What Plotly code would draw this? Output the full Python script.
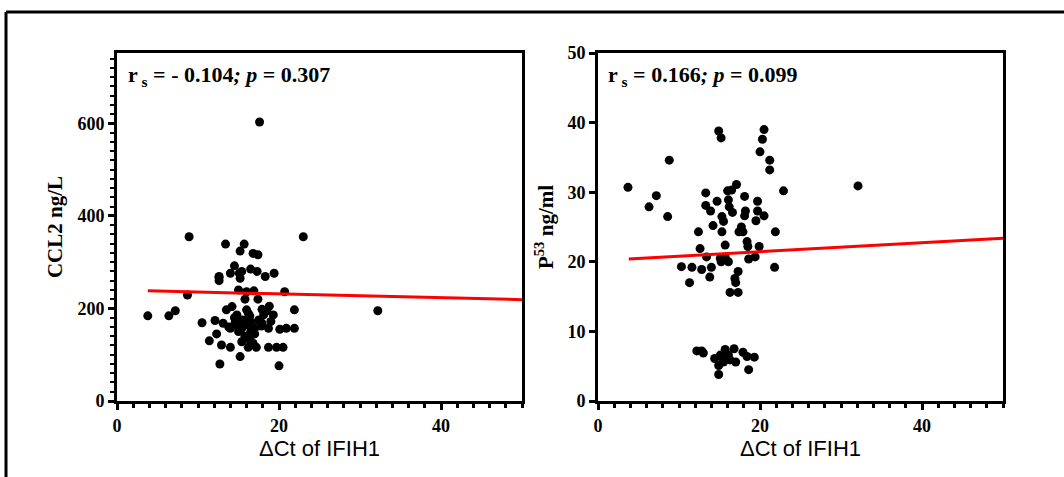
import plotly.graph_objects as go

# ---- data: left panel (CCL2 vs ΔCt IFIH1) ----
ccl2_x = [8.9, 23.0, 13.4, 15.7, 15.2, 16.8, 17.4, 17.6,
          14.5, 12.6, 14.0, 15.4, 16.5, 17.3, 18.3, 19.4, 15.2, 12.6, 12.6, 15.1,
          15.0, 16.0, 16.9, 20.7, 8.7, 15.8, 17.4,
          14.2, 13.5, 16.0, 17.9, 18.8, 21.9, 7.2, 32.2, 3.8, 6.4,
          14.8, 16.4, 18.1, 19.3, 10.5, 12.1, 13.1, 15.0, 16.6, 17.9,
          14.0, 15.4, 17.0, 18.7, 20.1, 20.9, 21.9, 12.3, 11.4, 12.9, 14.0, 15.4,
          16.4, 16.2, 17.2, 18.7, 19.7, 20.5, 15.2, 12.7, 20.0,
          15.5, 16.0, 15.0, 16.5, 15.8, 16.8, 14.5, 17.5, 18.5, 13.8, 16.2, 17.0,
          15.0, 14.6, 16.3, 17.8, 19.0]
ccl2_y = [355, 355, 339, 339, 324, 319, 316, 603,
          292, 267, 276, 280, 285, 280, 269, 276, 265, 269, 260, 276,
          240, 236, 238, 236, 229, 220, 220,
          204, 197, 197, 198, 205, 197, 195, 195, 184, 184,
          186, 184, 186, 186, 169, 174, 168, 168, 169, 168,
          157, 157, 157, 157, 155, 157, 157, 145, 130, 121, 116, 128,
          132, 116, 116, 116, 116, 116, 96, 80, 76,
          175, 165, 160, 150, 140, 125, 180, 175, 195, 160, 190, 145,
          150, 170, 178, 162, 172]
ccl2_fit_x = [3.8, 50]
ccl2_fit_y = [238, 219]

# ---- data: right panel (P53 vs ΔCt IFIH1) ----
p53_x = [3.7, 7.2, 6.3, 8.6, 8.8, 14.9, 15.2, 20.5, 20.3, 20.0, 21.2, 21.2, 32.1,
         22.9, 17.1, 16.5, 16.0, 13.3, 18.1, 14.7, 16.1, 19.7, 13.3, 13.9, 16.2,
         16.6, 18.2, 19.7, 20.5, 15.3, 18.1, 19.5, 14.2, 15.5, 17.7, 12.4, 15.3,
         17.4, 21.9, 17.9, 12.6, 15.7, 18.4, 18.5, 19.9, 13.4, 15.1, 15.7, 16.1,
         15.2, 18.6, 19.4, 10.3, 11.6, 12.8, 14.0, 21.8, 17.3, 16.9, 17.0, 13.8,
         11.3, 16.3, 17.3,
         12.2, 12.8, 13.0, 15.7, 16.8, 17.9, 14.4, 15.1, 15.5, 16.3, 17.0, 18.4,
         19.3, 14.9, 14.9, 18.6, 15.3, 16.1]
p53_y = [30.7, 29.5, 27.9, 26.5, 34.6, 38.8, 37.8, 39.0, 37.6, 35.8, 34.6, 33.2, 30.9,
         30.2, 31.1, 30.3, 30.2, 29.9, 29.4, 28.7, 28.9, 28.7, 28.1, 27.3, 27.9,
         27.1, 27.3, 27.3, 26.6, 26.5, 26.6, 25.9, 25.2, 25.8, 25.0, 24.3, 24.3,
         24.3, 24.3, 24.3, 21.9, 22.4, 22.9, 22.2, 22.2, 20.7, 20.5, 20.7, 20.0,
         20.0, 20.4, 20.7, 19.3, 19.2, 18.9, 19.2, 19.2, 18.6, 17.6, 17.0, 17.8,
         17.0, 15.6, 15.6,
         7.2, 7.2, 6.9, 7.4, 7.5, 7.0, 6.1, 6.6, 5.6, 5.9, 5.6, 6.4,
         6.3, 5.1, 3.8, 4.5, 6.3, 6.6]
p53_fit_x = [3.8, 50]
p53_fit_y = [20.4, 23.4]

W, H = 1064, 477
def px_x(p): return p / W
def px_y(p): return 1 - p / H

fig = go.Figure()
fig.add_trace(go.Scatter(x=ccl2_x, y=ccl2_y, mode="markers",
                         marker=dict(color="black", size=9), xaxis="x", yaxis="y"))
fig.add_trace(go.Scatter(x=ccl2_fit_x, y=ccl2_fit_y, mode="lines",
                         line=dict(color="#ff0000", width=3), xaxis="x", yaxis="y"))
fig.add_trace(go.Scatter(x=p53_x, y=p53_y, mode="markers",
                         marker=dict(color="black", size=9), xaxis="x2", yaxis="y2"))
fig.add_trace(go.Scatter(x=p53_fit_x, y=p53_fit_y, mode="lines",
                         line=dict(color="#ff0000", width=3), xaxis="x2", yaxis="y2"))

tickfont = dict(family="Liberation Serif", size=18, color="black", weight="bold")
xtitle_font = dict(family="Liberation Sans", size=22, color="black")
ytitle_font = dict(family="Liberation Serif", size=21, color="black", weight="bold")

common_x = dict(range=[0, 50], tickvals=[0, 20, 40], showgrid=False, zeroline=False,
                showline=True, linecolor="black", linewidth=3, mirror=True,
                ticks="outside", ticklen=6, tickwidth=2.5, tickcolor="black",
                tickfont=tickfont, automargin=False,
                minor=dict(dtick=2, ticks="outside", ticklen=4, tickwidth=2.5, tickcolor="black"),
                title=dict(text="\u0394Ct of IFIH1", font=xtitle_font, standoff=1))
common_y = dict(showgrid=False, zeroline=False, showline=True, linecolor="black",
                linewidth=3, mirror=True, ticks="outside", ticklen=6, tickwidth=2.5,
                tickcolor="black", tickfont=tickfont, automargin=False)

ydom = [px_y(401), px_y(53)]
fig.update_layout(
    width=W, height=H, margin=dict(l=0, r=0, t=0, b=0, autoexpand=False),
    paper_bgcolor="white", plot_bgcolor="white", showlegend=False,
    xaxis=dict(domain=[px_x(117), px_x(522)], anchor="y", **common_x),
    xaxis2=dict(domain=[px_x(598), px_x(1003)], anchor="y2", **common_x),
    yaxis=dict(domain=ydom, anchor="x", range=[0, 752], tickvals=[0, 200, 400, 600],
               minor=dict(dtick=20, ticks="outside", ticklen=4, tickwidth=2, tickcolor="black"),
               title=dict(text="CCL2 ng/L", font=ytitle_font, standoff=10),
               **common_y),
    yaxis2=dict(domain=ydom, anchor="x2", range=[0, 50], tickvals=[0, 10, 20, 30, 40, 50],
                title=dict(text="P<sup>53</sup> ng/ml", font=ytitle_font, standoff=9),
                **common_y),
    font=dict(family="Liberation Serif", color="black"),
)

annfont = dict(family="Liberation Serif", size=22, color="black", weight="bold")
fig.add_annotation(xref="paper", yref="paper", x=px_x(126), y=px_y(76),
                   xanchor="left", yanchor="middle", showarrow=False, font=annfont,
                   text="r<sub> s</sub> = - 0.104<i>;</i> <i>p</i> = 0.307")
fig.add_annotation(xref="paper", yref="paper", x=px_x(606), y=px_y(76),
                   xanchor="left", yanchor="middle", showarrow=False, font=annfont,
                   text="r<sub> s</sub> = 0.166<i>;</i> <i>p</i> = 0.099")

# outer frame
fig.add_shape(type="line", xref="paper", yref="paper", x0=px_x(6), y0=px_y(12),
              x1=1.01, y1=px_y(12), line=dict(color="black", width=3))
fig.add_shape(type="line", xref="paper", yref="paper", x0=px_x(6), y0=px_y(12),
              x1=px_x(6), y1=-0.01, line=dict(color="black", width=3))

fig.write_html("out.html", config={"displayModeBar": False},
               post_script="document.body.style.margin='0px';document.body.style.overflow='hidden';")
